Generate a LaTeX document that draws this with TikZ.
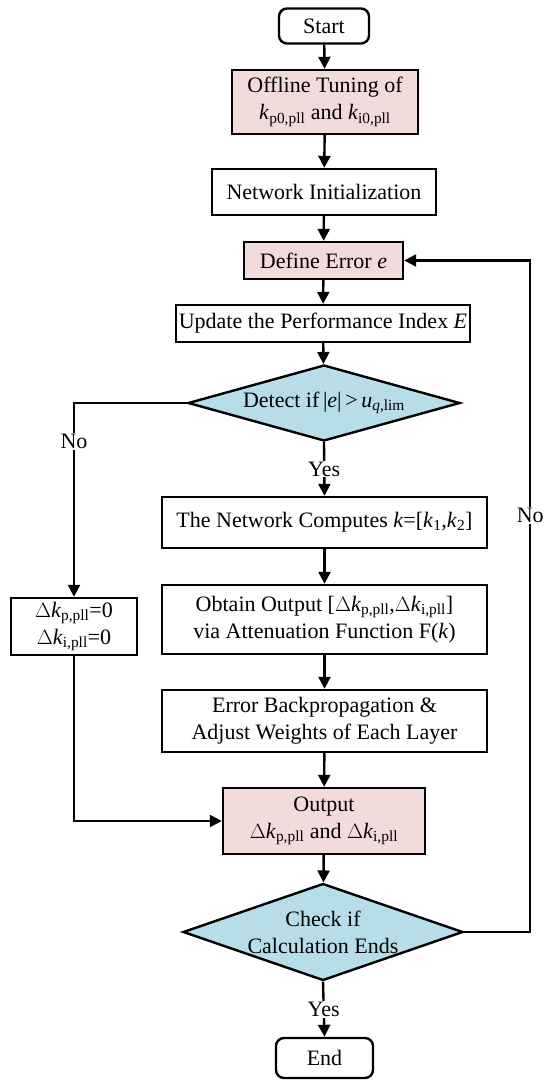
\documentclass[tikz,border=0pt]{standalone}
\usepackage{fontspec}
\setmainfont{Liberation Serif}
\usetikzlibrary{shapes.geometric,arrows.meta}
\definecolor{pinkfill}{HTML}{F2DCDB}
\definecolor{bluefill}{HTML}{B7DEE8}
\newcommand{\kk}[1]{\textit{k}\textsubscript{#1}}
\begin{document}
\begin{tikzpicture}[x=1pt,y=-1pt,
  every node/.style={font=\fontsize{22}{27}\selectfont},
  box/.style={draw,line width=2.4pt,rectangle,inner sep=0pt,align=center},
  term/.style={box,rounded corners=8pt},
  dia/.style={draw,line width=2.4pt,diamond,fill=bluefill,inner sep=0pt},
  conn/.style={line width=2.4pt},
  arr/.style={conn,-{Triangle[length=12pt,width=12pt]}},
  lbl/.style={fill=white,inner sep=1pt}]
\useasboundingbox (0,0) rectangle (550,1088);
\node[term,minimum width=90pt,minimum height=35pt] (start) at (324,26) {Start};
\node[box,fill=pinkfill,minimum width=186pt,minimum height=64pt] (offline) at (325,102) {Offline Tuning of\\\kk{p0,pll} and \kk{i0,pll}};
\node[box,minimum width=224pt,minimum height=46pt] (init) at (324,192) {Network Initialization};
\node[box,fill=pinkfill,minimum width=159pt,minimum height=37pt] (define) at (323.5,260.5) {Define Error \textit{e}};
\node[box,minimum width=294pt,minimum height=37pt] (update) at (323,323.5) {Update the Performance Index \textit{E}};
\node[dia,minimum width=272pt,minimum height=76pt] (detect) at (324,403) {};
\node at (detect) {Detect if\,|\textit{e}|\,>\,\textit{u}\textsubscript{\textit{q},lim}};
\node[box,minimum width=325pt,minimum height=51pt] (net) at (324.5,522.5) {The Network Computes \textit{k}=[\kk{1},\kk{2}]};
\node[box,minimum width=325pt,minimum height=69pt] (obtain) at (324.5,619.5) {Obtain Output [$\Delta$\kk{p,pll},$\Delta$\kk{i,pll}]\\via Attenuation Function F(\textit{k})};
\node[box,minimum width=325pt,minimum height=62pt] (back) at (324.5,721) {Error Backpropagation \&\\Adjust Weights of Each Layer};
\node[box,fill=pinkfill,minimum width=202pt,minimum height=66pt] (output) at (324,821) {Output\\$\Delta$\kk{p,pll} and $\Delta$\kk{i,pll}};
\node[dia,minimum width=280pt,minimum height=97pt] (check) at (323,932) {};
\node[align=center] at (check) {Check if\\Calculation Ends};
\node[term,minimum width=97pt,minimum height=40pt] (end) at (324.5,1058) {End};
\node[box,minimum width=126pt,minimum height=57pt] (delta) at (74,626.5) {$\Delta$\kk{p,pll}=0\\$\Delta$\kk{i,pll}=0};
\draw[arr] (start) -- (offline);
\draw[arr] (offline) -- (init);
\draw[arr] (init) -- (define);
\draw[arr] (define) -- (update);
\draw[arr] (update) -- (detect);
\draw[arr] (detect.south) -- node[lbl,pos=0.5] {Yes} (net.north);
\draw[arr] (net) -- (obtain);
\draw[arr] (obtain) -- (back);
\draw[arr] (back) -- (output);
\draw[arr] (output) -- (check);
\draw[arr] (check.south) -- node[lbl,pos=0.5] {Yes} (end.north);
\draw[arr] (detect.west) -| node[lbl,pos=0.6] {No} (delta.north);
\draw[arr] (delta.south) |- (output.west);
\draw[arr] (check.east) -- ++(66,0) |- node[lbl,pos=0.31] {No} (define.east);
\end{tikzpicture}
\end{document}
